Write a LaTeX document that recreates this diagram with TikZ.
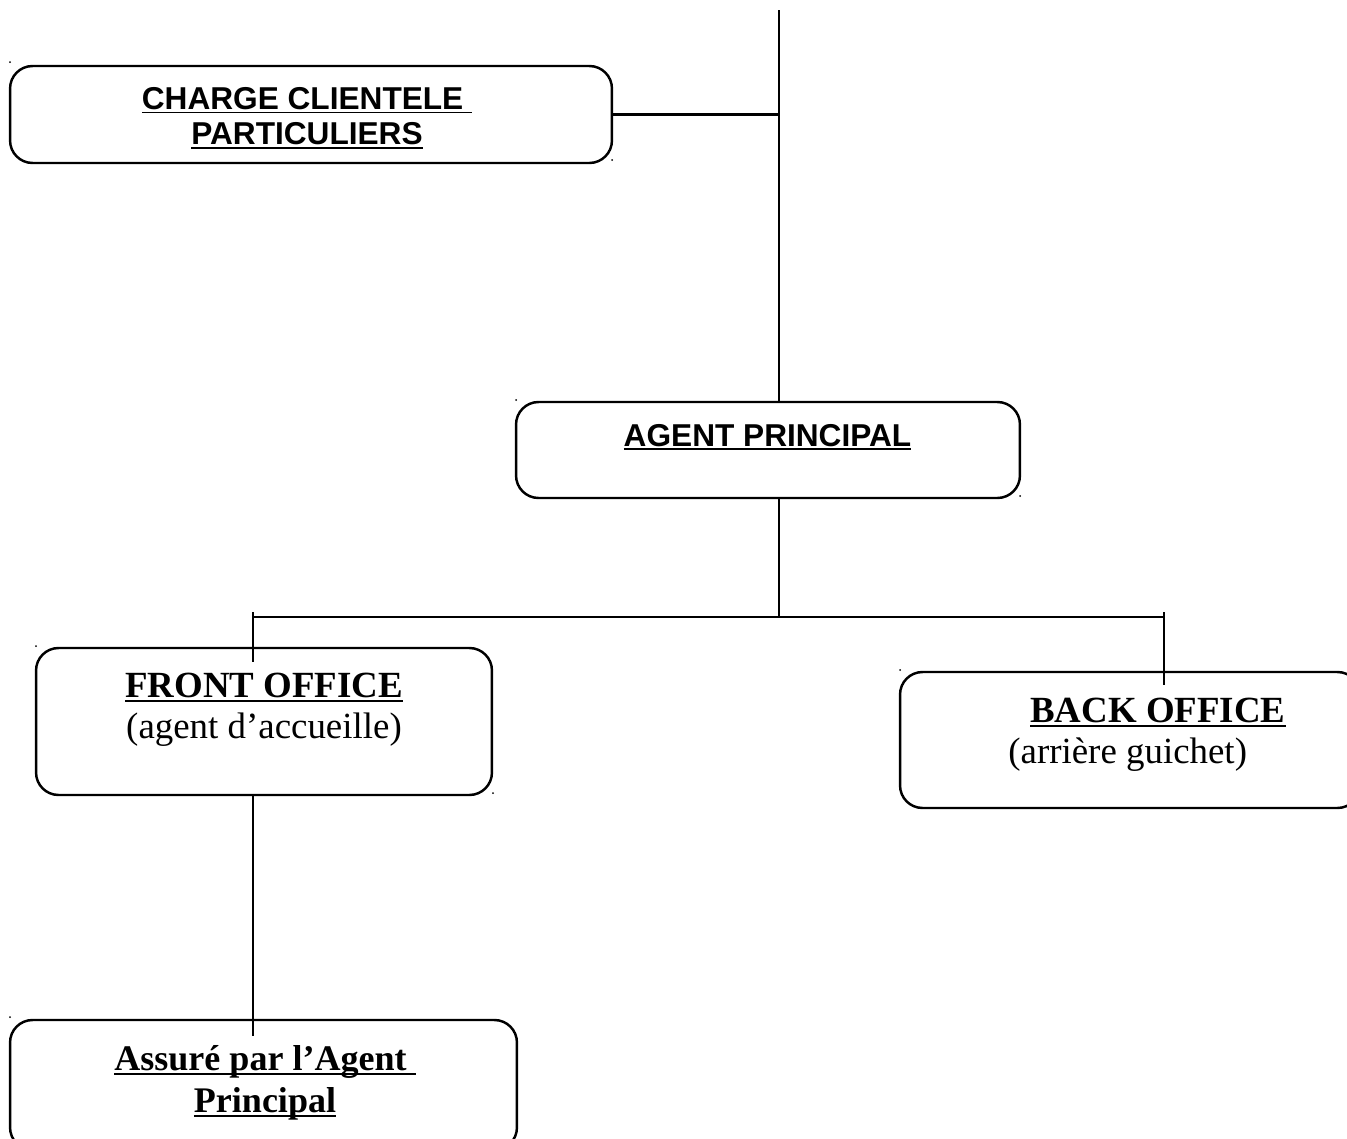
\documentclass[tikz,border=0pt]{standalone}
\usepackage{fontspec}
\setmainfont{Liberation Serif}
\newfontfamily\arialfont{Liberation Sans}
\usetikzlibrary{positioning}
\newcommand{\undl}[1]{\setbox0\hbox{#1}\rlap{\rule[-0.12em]{\wd0}{0.055em}}\box0}
\tikzset{unit/.style={draw, line width=1.4pt, rounded corners=0.45cm, inner sep=0pt},
	link/.style={line width=1.2pt},
	sans/.style={font=\arialfont\bfseries\fontsize{18}{20}\selectfont, align=center, inner sep=0pt},
	serif/.style={font=\fontsize{21}{23.5}\selectfont, align=center, inner sep=0pt}}

\begin{document}
\begin{tikzpicture}[x=0.02cm, y=-0.02cm]
		\useasboundingbox (0,0) rectangle (1347,1139);
		% boxes
		\node[unit, minimum width=12.04cm, minimum height=1.94cm] (box1) at (311,114.5) {};
		\node[unit, minimum width=10.08cm, minimum height=1.92cm] (box2) at (768,450) {};
		\node[unit, minimum width=9.12cm, minimum height=2.94cm] (box3) at (264,721.5) {};
		\node[unit, minimum width=9.2cm, minimum height=2.72cm] (box4) at (1130,740) {};
		\node[unit, minimum width=10.14cm, minimum height=2.6cm] (box5) at (263.5,1085) {};
		% texts
		\node[sans] (t1) at (307,118) {\undl{CHARGE CLIENTELE\ }\\\undl{PARTICULIERS}};
		\node[sans] (t2) at (767.5,437) {\undl{AGENT PRINCIPAL}};
		\node[serif] (t3) at (264,710) {\textbf{\undl{FRONT OFFICE}}\\(agent d’accueille)};
		\node[serif, align=left, anchor=west] (t4) at (1008,735) {\hspace*{0.44cm}\textbf{\undl{BACK OFFICE}}\\(arrière guichet)};
		\node[serif, font=\bfseries\fontsize{20.5}{24}\selectfont] (t5) at (265,1083) {\undl{Assuré par l’Agent\ }\\\undl{Principal}};
		% lines
		\coordinate (top) at (779,10);
		\coordinate (bus) at (779,617);
		\coordinate (fo) at (253,612);
		\coordinate (bo) at (1164,612);
		\draw[link] (top) -- (top |- box2.north);
		\draw[link] (box1.east) -- (box1.east -| top);
		\draw[link] (box2.south -| top) -- (bus);
		\draw[link] (fo |- bus) -- (bo |- bus);
		\draw[link] (fo) -- ++(0,50);
		\draw[link] (bo) -- ++(0,73);
		\draw[link] (box3.south -| fo) -- ++(0,240);
		% specks
		\foreach \p in {(10,62),(612,160),(516,400),(1020,496),(36,646),(493,793),(900,670),(10,1017)}
			\fill \p circle (1);
	\end{tikzpicture}
\end{document}
